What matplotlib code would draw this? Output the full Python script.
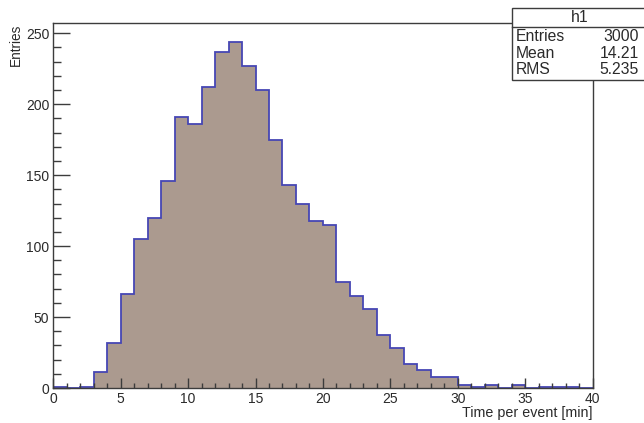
import numpy as np
import matplotlib.pyplot as plt
from matplotlib.patches import Rectangle
from matplotlib.ticker import MultipleLocator

plt.rcParams['font.family'] = ['Liberation Sans', 'DejaVu Sans']

# Data: histogram h1, 40 bins of width 1 from 0 to 40
bin_edges = np.arange(0, 41, 1)
counts = [1, 0, 1, 11, 32, 66, 105, 120, 146, 191,
          186, 212, 237, 244, 227, 210, 175, 143, 130, 118,
          115, 75, 65, 56, 37, 28, 17, 13, 8, 8,
          2, 1, 2, 0, 2, 0, 1, 1, 1, 0]
stats_labels = ["Entries", "Mean", "RMS"]
stats_values = ["3000", "14.21", "5.235"]

W, H = 644, 423
fig = plt.figure(figsize=(W / 100, H / 100), dpi=100)
ax = fig.add_axes([53.3 / W, 1 - 388 / H, (592.5 - 53.3) / W, (388 - 23.3) / H])

fill_col = "#ab9a8f"
line_col = "#4646b4"
ax.stairs(counts, bin_edges, fill=True, color=fill_col, zorder=1)
ax.stairs(counts, bin_edges, fill=False, color=line_col, linewidth=1.3, zorder=1.5)

ax.set_xlim(0, 40)
ax.set_ylim(0, 257)

ax.xaxis.set_major_locator(MultipleLocator(5))
ax.xaxis.set_minor_locator(MultipleLocator(1))
ax.yaxis.set_major_locator(MultipleLocator(50))
ax.yaxis.set_minor_locator(MultipleLocator(10))

spine_col = "#3c3c3c"
txt_col = "#2a2a2a"
for s in ax.spines.values():
    s.set_color(spine_col)
    s.set_linewidth(1.0)

ax.tick_params(axis="both", which="both", direction="in", color=spine_col,
               labelsize=10, labelcolor=txt_col, width=1.0)
ax.tick_params(axis="x", which="major", length=7.2, pad=3)
ax.tick_params(axis="x", which="minor", length=3.6)
ax.tick_params(axis="y", which="major", length=12, pad=3)
ax.tick_params(axis="y", which="minor", length=6)

ax.set_xlabel("Time per event [min]", fontsize=10.3, color=txt_col)
ax.xaxis.set_label_coords(1.0, -0.048)
ax.xaxis.label.set_horizontalalignment("right")
ax.set_ylabel("Entries", fontsize=9.8, color=txt_col)
ax.yaxis.set_label_coords(-0.082, 1.0)
ax.yaxis.label.set_verticalalignment("top")
ax.yaxis.label.set_horizontalalignment("right")

# Stats box
bx0, btop, bhead, bbot = 511.7, 8.3, 27.3, 80
box = Rectangle((bx0 / W, 1 - bbot / H), (W + 5 - bx0) / W, (bbot - btop) / H,
                transform=fig.transFigure, facecolor="white", edgecolor=spine_col,
                linewidth=1.0, zorder=10)
fig.add_artist(box)
fig.add_artist(plt.Line2D([bx0 / W, 1.0], [1 - bhead / H] * 2,
                          transform=fig.transFigure, color=spine_col,
                          linewidth=1.0, zorder=11))
fig.text(580 / W, 1 - 17.5 / H, "h1", ha="center", va="center",
         fontsize=11.3, color=txt_col, zorder=12)
for i, (lab, val) in enumerate(zip(stats_labels, stats_values)):
    yy = 1 - (36.5 + 16.7 * i) / H
    fig.text(516 / W, yy, lab, ha="left", va="center", fontsize=11.3,
             color=txt_col, zorder=12)
    fig.text(639 / W, yy, val, ha="right", va="center", fontsize=11.3,
             color=txt_col, zorder=12)

fig.savefig("out.png", dpi=100)
